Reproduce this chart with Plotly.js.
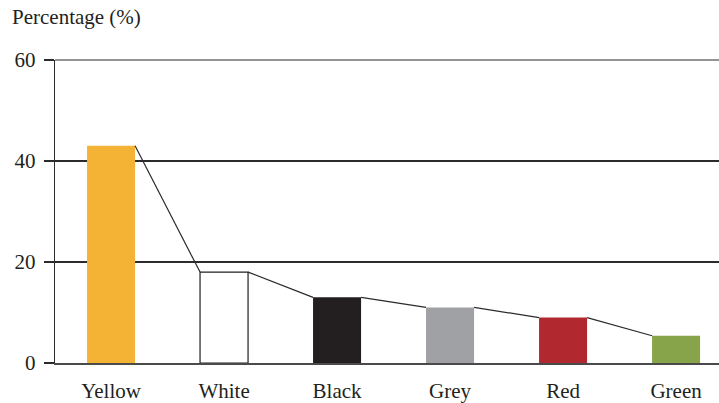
<!DOCTYPE html>
<html>
<head>
<meta charset="utf-8">
<script src="https://cdn.plot.ly/plotly-3.0.1.min.js"></script>
<style>
  html, body { margin: 0; padding: 0; background: #ffffff; }
  #chart { width: 719px; height: 403px; }
</style>
</head>
<body>
<div id="chart"></div>
<script>
// Colour categories and their share in percent
const categories = ["Yellow", "White", "Black", "Grey", "Red", "Green"];
const percentages = [43, 18, 13, 11, 9, 5.4];
const barColors = ["#F4B335", "#FFFFFF", "#231F20", "#A0A1A4", "#B2282F", "#88A44A"];
const outlineWidths = [0, 1.2, 0, 0, 0, 0];
const yTicks = [0, 20, 40, 60];

const barWidth = 0.425;
const idx = categories.map((_, i) => i);
const yMax = Math.max(...yTicks);

// Connector segments: right top corner of each bar to left top corner of the next
const connX = [];
const connY = [];
for (let i = 0; i < categories.length - 1; i++) {
  connX.push(idx[i] + barWidth / 2, idx[i + 1] - barWidth / 2, null);
  connY.push(percentages[i], percentages[i + 1], null);
}

const lineColor = "#2b2b2b";
const font = { family: "'Liberation Serif', 'Times New Roman', serif", size: 21, color: "#231F20" };

const traces = [
  {
    type: "bar",
    x: idx,
    y: percentages,
    width: barWidth,
    marker: {
      color: barColors,
      line: { color: "#231F20", width: outlineWidths }
    },
    hoverinfo: "skip"
  },
  {
    type: "scatter",
    mode: "lines",
    x: connX,
    y: connY,
    connectgaps: false,
    line: { color: lineColor, width: 1.2 },
    hoverinfo: "skip"
  }
];

const layout = {
  width: 719,
  height: 403,
  margin: { l: 55, r: 0, t: 60, b: 40 },
  paper_bgcolor: "#ffffff",
  plot_bgcolor: "#ffffff",
  showlegend: false,
  font: font,
  xaxis: {
    type: "linear",
    range: [-0.496, 5.38],
    tickvals: idx,
    ticktext: categories,
    showgrid: false,
    zeroline: false,
    showline: true,
    linecolor: "#4a4a4a",
    linewidth: 1.5,
    ticks: "",
    ticklabelstandoff: 8,
    tickfont: font,
    fixedrange: true
  },
  yaxis: {
    range: [0, yMax],
    tickvals: yTicks,
    ticktext: yTicks.map(String),
    showgrid: true,
    gridcolor: lineColor,
    gridwidth: 1.2,
    zeroline: false,
    showline: true,
    linecolor: lineColor,
    linewidth: 1.2,
    ticks: "outside",
    ticklen: 10,
    tickwidth: 1.2,
    tickcolor: lineColor,
    ticklabelstandoff: 4,
    tickfont: font,
    fixedrange: true
  },
  // top gridline sits on the plot edge, where the axis would skip it
  shapes: [
    {
      type: "line",
      xref: "paper",
      yref: "paper",
      x0: 0,
      x1: 1,
      y0: 1,
      y1: 1,
      line: { color: lineColor, width: 1.2 },
      layer: "above"
    }
  ],
  annotations: [
    {
      text: "Percentage (%)",
      xref: "paper",
      yref: "paper",
      x: -55 / 664,
      y: 1,
      xanchor: "left",
      yanchor: "bottom",
      yshift: 29,
      xshift: 10,
      showarrow: false,
      font: font
    }
  ]
};

Plotly.newPlot("chart", traces, layout, { displayModeBar: false, staticPlot: true });
</script>
</body>
</html>
